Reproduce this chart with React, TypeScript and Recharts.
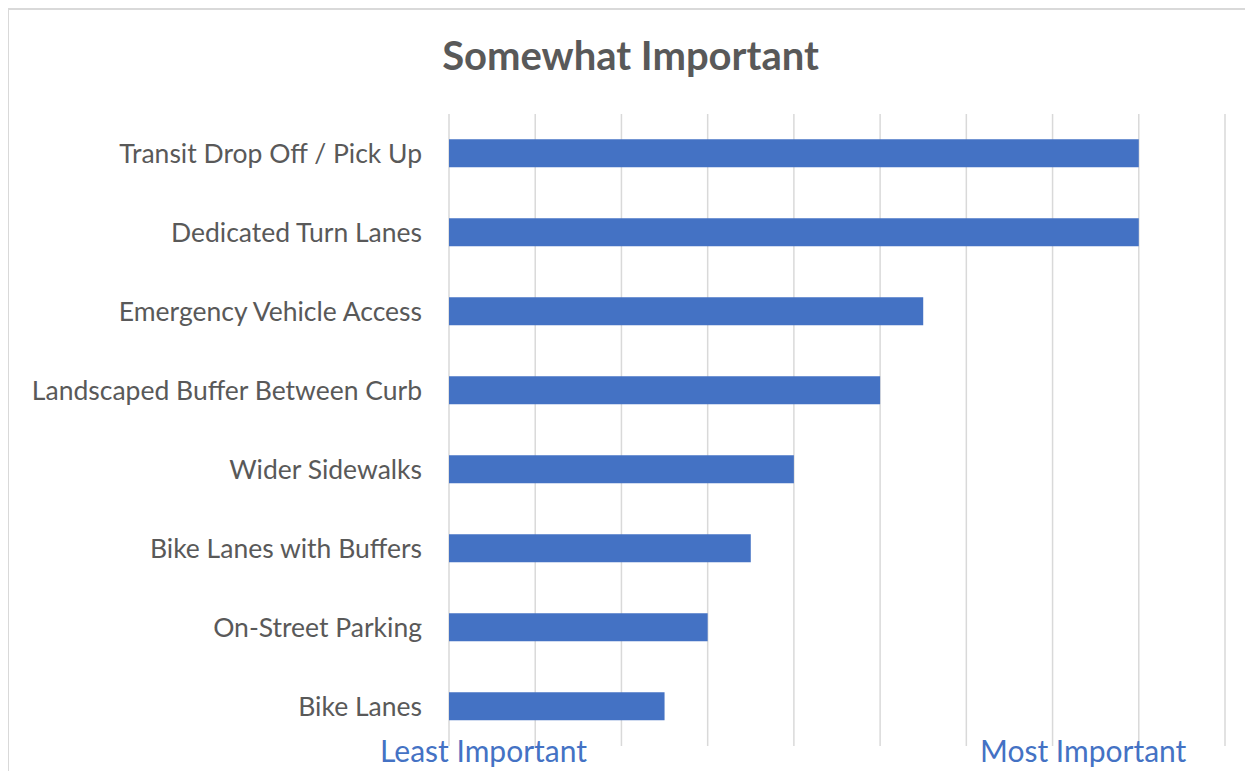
import React from 'react';
import { BarChart, Bar, XAxis, YAxis, CartesianGrid } from 'recharts';

const CATEGORIES = [
  'Transit Drop Off / Pick Up',
  'Dedicated Turn Lanes',
  'Emergency Vehicle Access',
  'Landscaped Buffer Between Curb',
  'Wider Sidewalks',
  'Bike Lanes with Buffers',
  'On-Street Parking',
  'Bike Lanes',
];
const SCORES = [8, 8, 5.5, 5, 4, 3.5, 3, 2.5];
const GRID_TICKS = [0, 1, 2, 3, 4, 5, 6, 7, 8, 9];
const TITLE = 'Somewhat Important';
const LOW_LABEL = 'Least Important';
const HIGH_LABEL = 'Most Important';

const data = CATEGORIES.map((name, i) => ({ name, score: SCORES[i] }));

const FONT = 'Lato, "Noto Sans", sans-serif';

const App: React.FC = () => {
  return (
    <div style={{ position: 'relative', width: 1245, height: 763, marginLeft: -1, overflow: 'hidden', fontFamily: FONT }}>
      {/* chart frame: only top and left edges show, the rest is cropped */}
      <div style={{ position: 'absolute', left: 0, top: 0, width: 1245, height: 763, borderTop: '2px solid #d9d9d9', borderLeft: '2px solid #d9d9d9', boxSizing: 'border-box' }} />
      <div
        style={{
          position: 'absolute', left: 0, width: 1247, top: 23, textAlign: 'center',
          fontSize: 40, fontWeight: 700, color: '#595959', lineHeight: '48px',
        }}
      >
        {TITLE}
      </div>
      <div style={{ position: 'absolute', top: 0, left: 1 }}>
        <BarChart
          width={1244}
          height={763}
          data={data}
          layout="vertical"
          margin={{ top: 106, right: 27, bottom: 25, left: 0 }}
          barCategoryGap="32%"
        >
          <CartesianGrid horizontal={false} stroke="#d9d9d9" strokeWidth={1.5} />
          <XAxis type="number" domain={[0, 9]} ticks={GRID_TICKS} hide />
          <YAxis
            type="category"
            dataKey="name"
            width={441}
            axisLine={false}
            tickLine={false}
            tickMargin={21}
            tick={{ fill: '#595959', fontSize: 26.5, fontFamily: FONT }}
          />
          <Bar dataKey="score" fill="#4472C4" isAnimationActive={false} />
        </BarChart>
      </div>
      <div style={{ position: 'absolute', left: 373, top: 727, fontSize: 30, color: '#4472C4', lineHeight: '30px', whiteSpace: 'nowrap' }}>
        {LOW_LABEL}
      </div>
      <div style={{ position: 'absolute', left: 973, top: 727, fontSize: 30, color: '#4472C4', lineHeight: '30px', whiteSpace: 'nowrap' }}>
        {HIGH_LABEL}
      </div>
    </div>
  );
};

export default App;
